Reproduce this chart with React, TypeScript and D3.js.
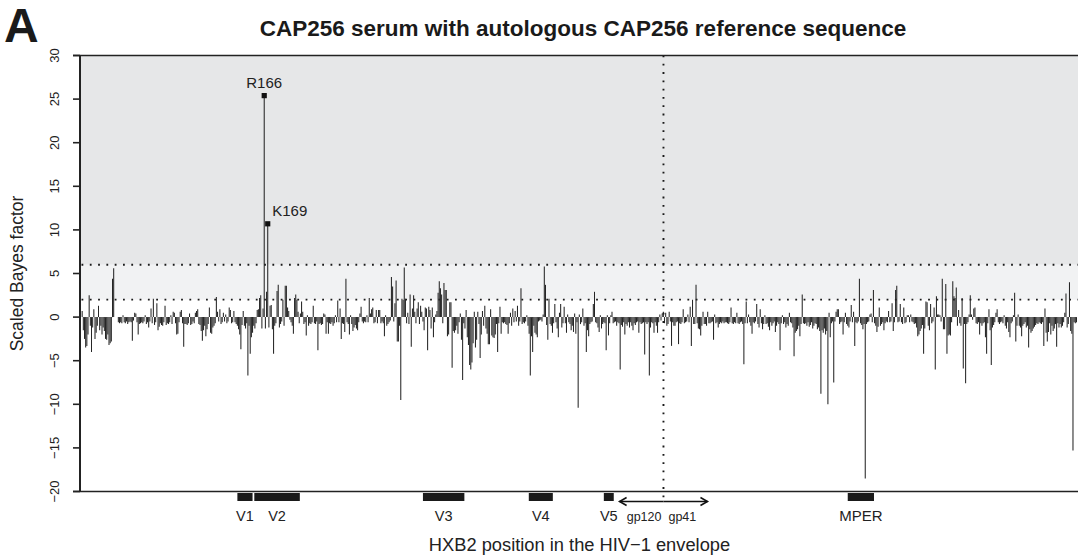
import React from "react";
import * as d3 from "d3";

// ---------- DATA ----------
const START_POS = 10; // HXB2 position of first value
const bayesFactor = [
  0.7, -1.5, -2.5, -3.5, -3.3, -2.0, 2.5, -1.0, -4.0, -1.2,
  0.9, -2.5, -1.8, -1.0, 1.3, -1.5, -1.0, -2.0, -1.2, -1.6,
  -2.5, -2.6, -2.0, -3.2, -3.0, -2.8, 4.4, 5.6, 0, 0,
  0, -0.6, -0.7, -0.6, -0.7, 0.2, -0.6, -0.7, -0.5, -0.8,
  -0.6, -0.5, -0.6, -2.7, -0.4, 0.5, 0.4, -0.6, -2.0, -0.8,
  -0.7, -0.6, -0.7, -0.5, 0.2, -0.8, -0.6, -1.2, -0.5, 1.0,
  -0.7, 2.1, -0.9, -0.6, 1.6, -1.5, -1.1, -0.7, -0.9, -1.0,
  -0.6, 1.3, -0.9, -0.7, -0.8, -0.6, 0.2, -0.8, 0.6, 0.5,
  -0.7, -2.0, -1.9, -0.6, 0.6, 0.8, -0.7, -3.4, -0.8, -0.8,
  -0.9, -0.7, 0.4, -0.9, -0.8, -0.5, -0.7, 0.5, 0.7, 0.9,
  -0.8, -0.9, -1.6, -2.7, -1.5, -1.0, -2.2, -1.4, -0.8, 1.1,
  -1.8, -1.9, -1.2, -1.0, -0.7, 2.3, 0.6, -0.5, 0.9, -0.8,
  -0.6, 0.5, -0.5, 0.3, -0.7, -0.5, 1.1, 0.8, -0.7, -0.6,
  0.7, -0.6, -0.8, -1.0, -1.4, -2.0, -3.7, -0.9, 0.7, -1.0,
  -1.3, -0.7, -6.7, -1.0, -4.2, -2.3, -1.8, -1.0, -1.3, -0.7,
  0.8, 0.9, 2.2, 2.5, -1.3, 1.0, 25.4, -1.3, 2.9, 10.7,
  -1.2, 1.3, 1.4, -1.4, -4.2, -1.0, -0.7, 3.0, 3.7, -1.2,
  -0.8, -0.5, 2.0, -1.0, 3.6, 3.6, 1.1, 0.7, -0.3, -0.6,
  -1.0, -1.9, 2.2, 2.6, 2.0, 0.6, -0.7, 0.4, 1.8, 0.6,
  -0.8, -0.6, -2.1, 0.2, -1.0, -0.7, -0.8, -0.6, 1.3, -0.7,
  -0.8, -0.5, -3.8, -0.8, -0.7, -0.9, -0.8, 0.4, 0.3, -1.9,
  -0.6, -1.9, -0.7, -0.8, -0.6, -1.0, -0.7, 0.2, -0.6, 1.9,
  -0.6, 1.0, -2.5, -0.7, -0.8, -1.7, 4.4, -0.6, -0.8, -2.0,
  0.2, -0.8, -1.6, -1.2, -0.9, -1.3, -1.5, -0.6, 0.4, 1.2,
  -0.5, -0.7, -0.5, -0.6, 0.2, -0.6, 2.2, 0.4, 0.9, 1.1,
  -0.7, -0.6, 0.8, -0.7, 0.8, 0.8, -0.7, -0.5, -0.7, -2.2,
  0.2, -1.0, -0.8, -0.6, -0.4, 4.6, 3.5, -0.5, 1.6, 4.2,
  -2.8, -2.8, -1.0, -9.5, 2.1, 2.0, 5.7, 2.1, -0.7, 0.5,
  -0.8, 2.6, -3.4, 1.0, 2.5, 0.6, -0.7, 1.0, 1.7, -0.8,
  1.3, 0.6, -0.5, -1.5, 1.1, 1.0, -3.8, 1.2, 0.8, -1.3,
  1.1, -2.3, -0.6, 0.3, 0.7, 2.8, 4.1, 3.3, 2.6, -0.7,
  3.9, 3.1, 3.1, -2.2, -2.0, 1.7, 1.7, -5.8, -1.6, -1.8,
  -1.5, -1.0, -1.9, -0.6, 0.4, -2.6, -7.2, -0.7, -1.3, 0.8,
  -2.3, -3.2, -5.5, -6.0, -5.2, -3.0, 0.6, -3.5, -2.6, 0.6,
  -0.8, -4.7, -2.0, 0.7, -1.0, 1.3, -1.3, -1.9, -3.1, -3.1,
  0.9, -2.1, -2.3, -2.4, -2.0, -0.8, -4.0, -0.7, 1.2, -1.9,
  -0.6, -0.7, -0.6, -0.8, -0.9, -1.9, -0.7, 0.5, -1.0, 1.0,
  -0.6, 0.7, -0.5, 1.3, -1.0, -0.5, 3.3, -0.8, -0.6, -0.7,
  -0.5, 0.2, -1.0, -1.9, -6.7, -2.2, -4.0, -1.0, -1.8, -2.0,
  -2.3, -0.5, -0.4, -0.3, -0.5, 0.3, 5.8, 3.7, -0.9, -2.6,
  2.1, -0.8, -1.0, -1.8, -0.7, 1.5, -0.6, -1.3, -2.3, 0.5,
  1.5, -1.2, -0.7, 1.2, -0.7, -1.8, 0.3, -0.6, -0.8, -1.5,
  -1.0, -1.7, 0.4, -1.9, -0.6, -10.4, 0.3, -0.8, -0.6, 1.0,
  -1.0, -0.7, -4.0, -1.5, -2.2, -0.8, -0.6, -0.5, 1.5, 2.9,
  -0.6, -0.7, -1.2, -1.7, 0.2, -1.3, -0.8, -0.6, -0.7, -3.8,
  0.2, -2.1, -0.7, 0.2, 0.6, -0.7, -0.6, -0.5, -1.0, -0.6,
  -0.7, -6.0, -0.9, -1.1, -0.6, -2.0, -0.8, -1.0, -0.6, -1.2,
  -0.6, -1.0, -1.5, -0.7, -0.9, -0.6, -0.5, -1.8, -0.6, -0.8,
  -0.7, -0.6, -4.3, -0.6, -0.8, -0.6, -6.7, -1.2, -0.6, -0.7,
  -1.8, -0.6, -1.0, -1.8, -0.6, 0.3, -0.4, 0.4, 0.6, -0.7,
  0.5, -1.0, -0.8, 0.6, -0.5, -3.3, -0.6, -1.0, -1.0, -0.6,
  -0.5, -3.1, -0.7, -0.8, -0.6, 0.9, -0.7, -0.6, -0.5, 0.3,
  -0.6, 1.2, -3.3, 2.0, -0.8, -0.8, 3.7, -0.7, -1.3, -1.4,
  -2.1, -1.0, 0.6, -0.8, -0.8, -1.0, 0.6, -0.7, -0.7, -0.6,
  -0.5, -2.6, 0.3, -0.7, -0.6, -1.2, -0.8, -0.6, -0.7, -0.5,
  -0.7, -0.6, -0.6, -0.7, -0.8, -0.6, 1.1, -0.7, -0.8, -0.6,
  -0.7, 0.5, -0.7, -0.8, -0.6, -0.5, -0.8, -5.4, -0.7, 1.8,
  -0.7, 0.3, -0.6, -1.0, -1.9, -0.6, -0.7, -0.5, 1.5, -0.8,
  -1.2, 0.9, -0.7, -1.4, -0.8, 0.2, -0.8, -0.7, -1.1, -1.5,
  -0.6, -1.0, -0.7, -0.5, -1.7, -1.0, -0.6, -0.8, -3.8, -0.7,
  0.2, -0.8, -0.6, -1.2, -0.8, -1.0, 0.5, -0.6, -0.7, -1.2,
  -4.5, -1.8, -1.6, -1.4, -1.0, -2.2, -0.8, 2.6, -0.7, -0.8,
  -0.7, -1.0, -0.6, -1.1, -0.9, -0.6, -1.3, -1.0, -0.7, -0.8,
  -1.4, -1.2, -1.6, -8.8, -1.5, -1.8, -1.3, -2.0, -1.6, -10.0,
  0.5, -2.3, -0.7, -0.5, -7.5, -0.5, 0.6, 0.9, 0.9, -0.8,
  -0.6, -0.5, -2.0, -0.6, 0.5, -0.8, -1.0, -1.2, -0.5, 1.4,
  -0.6, 0.6, -3.3, -0.6, -0.7, -0.5, 4.4, -0.7, -0.9, -1.4,
  -0.8, -18.5, -0.8, -0.6, -0.5, 0.3, 0.4, -0.6, 3.1, -0.7,
  -1.0, -1.7, -1.1, 1.1, -1.0, -0.8, -0.6, -1.5, -0.7, -0.5,
  -0.6, 0.7, -0.6, -0.5, 1.6, -1.6, -0.6, 3.1, 3.6, -0.6,
  -0.5, 1.5, -0.6, -0.8, 1.1, -0.7, -0.6, 0.2, 0.2, -0.6,
  0.3, -0.5, -0.6, -0.8, -0.7, -1.2, -2.2, -2.0, -1.6, -1.3,
  -0.9, -4.2, -1.3, 1.8, 1.7, -1.0, -1.5, 1.5, -0.7, -0.5,
  1.1, -6.0, 2.4, 0.3, 0.3, 0.2, -0.5, 4.4, -1.4, -1.4,
  3.8, -4.2, -2.1, -2.0, -2.1, -0.6, 4.1, 2.4, 2.2, 3.4,
  -1.0, 0.8, -0.7, -1.0, 2.2, -5.9, -0.8, -7.6, -0.8, -0.6,
  0.3, 2.5, 0.3, -0.3, 1.0, 1.1, -0.7, -0.8, -0.6, -2.0,
  -0.7, -1.0, -0.7, -0.6, -2.3, -4.2, -0.7, 0.9, -1.5, -5.5,
  -1.2, -0.9, -0.6, 0.5, 0.9, -0.6, -0.8, -0.6, -0.5, -0.7,
  0.2, -1.0, -1.3, -0.6, -1.7, -2.3, -0.7, -0.5, 0.2, 2.8,
  -2.8, -1.0, 0.3, -1.0, -1.2, -2.2, -1.0, -0.8, -0.6, -1.2,
  -1.0, -3.5, -1.4, -1.8, -1.6, -1.3, -1.1, -0.9, -0.7, -0.8,
  -0.6, -0.7, -0.8, -0.6, -3.3, 1.0, -1.8, -2.8, -1.7, -0.7,
  -2.0, -1.0, -1.6, -1.3, -0.8, -3.4, -0.7, -1.2, -0.8, -1.2,
  -1.0, -0.6, 0.5, 2.7, -1.2, -0.8, 4.0, -1.6, -1.9, -15.3,
  -0.6, -0.7, -0.6,
];

const yTicks = [-20, -15, -10, -5, 0, 5, 10, 15, 20, 25, 30];
const thresholds = [2, 6];
const highlights = [
  { label: "R166", pos: 166 },
  { label: "K169", pos: 169 },
];
const regions = [
  { label: "V1", start: 143, end: 156 },
  { label: "V2", start: 157.5, end: 196.5 },
  { label: "V3", start: 302, end: 337.5 },
  { label: "V4", start: 392.7, end: 413.3 },
  { label: "V5", start: 457, end: 465.5 },
  { label: "MPER", start: 666, end: 688.5 },
];
const gpBoundary = 508.1;
const subunits = [
  { label: "gp120", tip: 470.5 },
  { label: "gp41", tip: 545.8 },
];

const TITLE = "CAP256 serum with autologous CAP256 reference sequence";
const X_TITLE = "HXB2 position in the HIV\u22121 envelope";
const Y_TITLE = "Scaled Bayes factor";

// ---------- LAYOUT ----------
const W = 1078;
const H = 557;
const plot = { left: 81, right: 1078, top: 55.5, bottom: 491.5 };
const FONT = "'Liberation Sans', Arial, Helvetica, sans-serif";

export default function App() {
  const x = d3.scaleLinear().domain([9, 863.3]).range([plot.left, plot.right]);
  const y = d3.scaleLinear().domain([-20, 30]).range([plot.bottom, plot.top]);

  const fmt = (v: number) => (v < 0 ? "\u2212" + Math.abs(v) : String(v));
  const xb = x(gpBoundary);
  const arrowY = 501.5;

  return (
    <svg
      width={W}
      height={H}
      style={{ position: "absolute", left: 0, top: 0, background: "#fff" }}
      fontFamily={FONT}
    >
      {/* shaded significance bands */}
      <rect x={plot.left} y={y(30)} width={plot.right - plot.left} height={y(6) - y(30)} fill="#e6e7e8" />
      <rect x={plot.left} y={y(6)} width={plot.right - plot.left} height={y(2) - y(6)} fill="#f1f2f3" />

      {/* threshold dotted lines */}
      {thresholds.map((t) => (
        <line
          key={t}
          x1={plot.left + 0.5}
          x2={plot.right}
          y1={y(t)}
          y2={y(t)}
          stroke="#1a1a1a"
          strokeWidth={1.9}
          strokeDasharray="1.8 6.5"
        />
      ))}

      {/* bars */}
      <g stroke="#262626" strokeWidth={1.05}>
        {bayesFactor.map((v, i) => {
          const px = x(START_POS + i);
          return <line key={i} x1={px} x2={px} y1={y(0)} y2={y(v)} />;
        })}
      </g>

      {/* gp120/gp41 boundary */}
      <line
        x1={xb}
        x2={xb}
        y1={plot.top}
        y2={503}
        stroke="#1a1a1a"
        strokeWidth={1.9}
        strokeDasharray="1.8 6.5"
      />

      {/* highlighted sites */}
      {highlights.map((h, i) => {
        const v = bayesFactor[h.pos - START_POS];
        const px = x(h.pos);
        const py = y(v);
        return (
          <g key={h.label}>
            <rect x={px - 2.6} y={py - 2.6} width={5.2} height={5.2} fill="#111" />
            {i === 0 ? (
              <text x={px} y={py - 7.5} textAnchor="middle" fontSize={15} fill="#222">
                {h.label}
              </text>
            ) : (
              <text x={px + 4.5} y={py - 7.5} textAnchor="start" fontSize={15} fill="#222">
                {h.label}
              </text>
            )}
          </g>
        );
      })}

      {/* axes */}
      <line x1={plot.left - 8} x2={plot.right} y1={plot.top} y2={plot.top} stroke="#222" strokeWidth={1.6} />
      <line x1={plot.left - 8} x2={plot.right} y1={plot.bottom} y2={plot.bottom} stroke="#222" strokeWidth={1.6} />
      <line x1={plot.left - 1} x2={plot.left - 1} y1={plot.top} y2={plot.bottom} stroke="#222" strokeWidth={2} />
      {yTicks.map((t) => (
        <g key={t}>
          <line x1={plot.left - 8} x2={plot.left - 1} y1={y(t)} y2={y(t)} stroke="#222" strokeWidth={1.6} />
          <text
            transform={`translate(59,${y(t)}) rotate(-90)`}
            textAnchor="middle"
            fontSize={13}
            fill="#222"
          >
            {fmt(t)}
          </text>
        </g>
      ))}

      {/* region boxes */}
      {regions.map((r) => (
        <g key={r.label}>
          <rect x={x(r.start)} y={493} width={x(r.end) - x(r.start)} height={8} fill="#1a1a1a" />
          <text
            x={(x(r.start) + x(r.end)) / 2}
            y={520.5}
            textAnchor="middle"
            fontSize={r.label === "MPER" ? 15 : 14.5}
            fill="#222"
          >
            {r.label}
          </text>
        </g>
      ))}

      {/* gp120 / gp41 arrows */}
      {subunits.map((s) => {
        const tx = x(s.tip);
        const dir = tx < xb ? -1 : 1;
        return (
          <g key={s.label} stroke="#111" strokeWidth={1.6} fill="none">
            <line x1={xb} x2={tx} y1={arrowY} y2={arrowY} />
            <polyline
              points={`${tx - dir * 7},${arrowY - 4} ${tx},${arrowY} ${tx - dir * 7},${arrowY + 4}`}
            />
          </g>
        );
      })}
      <text x={xb - 2} y={521} textAnchor="end" fontSize={12.5} fill="#222">
        {subunits[0].label}
      </text>
      <text x={xb + 5} y={521} textAnchor="start" fontSize={12.5} fill="#222">
        {subunits[1].label}
      </text>

      {/* titles */}
      <text x={4} y={42} fontSize={48} fontWeight="bold" fill="#1a1a1a">
        A
      </text>
      <text x={583} y={36} textAnchor="middle" fontSize={22.5} fontWeight="bold" fill="#1a1a1a">
        {TITLE}
      </text>
      <text x={(plot.left + plot.right) / 2} y={551} textAnchor="middle" fontSize={18.3} fill="#222">
        {X_TITLE}
      </text>
      <text
        transform={`translate(23,${(plot.top + plot.bottom) / 2}) rotate(-90)`}
        textAnchor="middle"
        fontSize={17.5}
        fill="#222"
      >
        {Y_TITLE}
      </text>
    </svg>
  );
}
